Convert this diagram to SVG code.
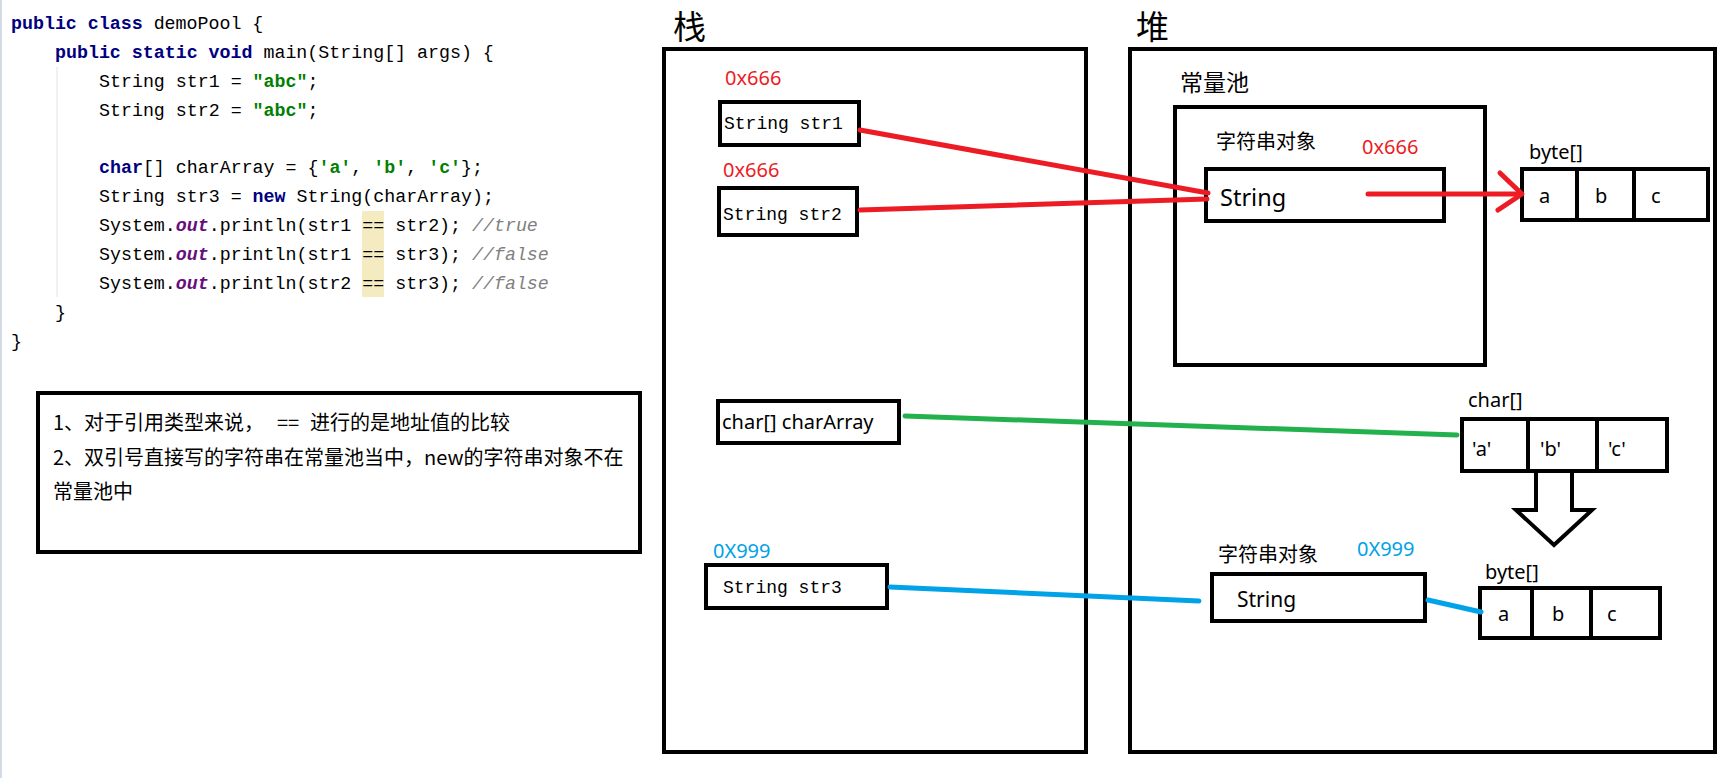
<svg xmlns="http://www.w3.org/2000/svg" width="1726" height="778" viewBox="0 0 1726 778">
<style>
.code{font-family:"Liberation Mono","DejaVu Sans Mono",monospace;font-size:18.3px;fill:#000}
.kw{font-weight:bold;fill:#000080}
.str{font-weight:bold;fill:#008000}
.fld{font-weight:bold;font-style:italic;fill:#660E7A}
.cmt{font-style:italic;fill:#808080}
.box{fill:#fff;stroke:#000;stroke-width:4}
.area{fill:none;stroke:#000;stroke-width:4}
.div{stroke:#000;stroke-width:4}
.cjk{font-family:"Noto Sans CJK SC","Noto Sans",sans-serif;fill:#000}
.lat{font-family:"Noto Sans","Noto Sans CJK SC",sans-serif;fill:#000;font-size:20px}
.mono{font-family:"Liberation Mono","DejaVu Sans Mono",monospace;font-size:18px;fill:#000}
.red{fill:#ED1C24}
.blue{fill:#00A2E8}
.link{fill:none;stroke-width:5;stroke-linecap:round;stroke-linejoin:round}
</style>
<rect width="1726" height="778" fill="#fff"/>

<g id="code">
<line x1="1" y1="0" x2="1" y2="778" stroke="#d3dbe6" stroke-width="2"/>
<line x1="57" y1="67" x2="57" y2="297" stroke="#e2e2e2" stroke-width="1"/>
<rect x="362" y="211" width="22" height="86" fill="#F5EBC0"/>
<text class="code" x="11" y="29"><tspan class="kw">public class</tspan> demoPool {</text>
<text class="code" x="55" y="58"><tspan class="kw">public static void</tspan> main(String[] args) {</text>
<text class="code" x="99" y="87">String str1 = <tspan class="str">"abc"</tspan>;</text>
<text class="code" x="99" y="116">String str2 = <tspan class="str">"abc"</tspan>;</text>
<text class="code" x="99" y="173"><tspan class="kw">char</tspan>[] charArray = {<tspan class="str">'a'</tspan>, <tspan class="str">'b'</tspan>, <tspan class="str">'c'</tspan>};</text>
<text class="code" x="99" y="202">String str3 = <tspan class="kw">new</tspan> String(charArray);</text>
<text class="code" x="99" y="231">System.<tspan class="fld">out</tspan>.println(str1 == str2); <tspan class="cmt">//true</tspan></text>
<text class="code" x="99" y="260">System.<tspan class="fld">out</tspan>.println(str1 == str3); <tspan class="cmt">//false</tspan></text>
<text class="code" x="99" y="289">System.<tspan class="fld">out</tspan>.println(str2 == str3); <tspan class="cmt">//false</tspan></text>
<text class="code" x="55" y="318">}</text>
<text class="code" x="11" y="347">}</text>
</g>

<g id="note">
<rect class="box" x="38" y="393" width="602" height="159"/>
<text class="cjk" font-size="20" y="430"><tspan x="53">1、对于引用类型来说，</tspan><tspan x="277">==</tspan><tspan x="310">进行的是地址值的比较</tspan></text>
<text class="cjk" font-size="20" x="53" y="465">2、双引号直接写的字符串在常量池当中，new的字符串对象不在</text>
<text class="cjk" font-size="20" x="53" y="499">常量池中</text>
</g>

<g id="stack">
<text class="cjk" font-size="33" x="673" y="39">栈</text>
<rect class="area" x="664" y="49" width="422" height="703"/>
</g>

<g id="heap">
<text class="cjk" font-size="33" x="1136" y="39">堆</text>
<rect class="area" x="1130" y="49" width="585" height="703"/>
</g>

<g id="str1">
<text class="lat red" x="725" y="85">0x666</text>
<rect class="box" x="720" y="102" width="139" height="43"/>
<text class="mono" x="724" y="129">String str1</text>
</g>

<g id="str2">
<text class="lat red" x="723" y="177">0x666</text>
<rect class="box" x="719" y="188" width="138" height="47"/>
<text class="mono" x="723" y="220">String str2</text>
</g>

<g id="charArrayVar">
<rect class="box" x="718" y="401" width="181" height="42"/>
<text class="lat" x="722" y="429">char[] charArray</text>
</g>

<g id="str3">
<text class="lat blue" x="713" y="558">0X999</text>
<rect class="box" x="706" y="565" width="181" height="43"/>
<text class="mono" x="723" y="593">String str3</text>
</g>

<g id="constantPool">
<text class="cjk" font-size="23" x="1180" y="91">常量池</text>
<rect class="area" x="1175" y="107" width="310" height="258"/>
</g>

<g id="stringObj1">
<text class="cjk" font-size="20" x="1216" y="149">字符串对象</text>
<text class="lat red" x="1362" y="154">0x666</text>
<rect class="box" x="1206" y="169" width="238" height="52"/>
<text class="lat" font-size="23.5" x="1220" y="206" style="font-size:23.5px">String</text>
</g>

<g id="byteArray1">
<text class="lat" x="1529" y="159">byte[]</text>
<rect class="box" x="1522" y="169" width="186" height="51"/>
<line class="div" x1="1577" y1="169" x2="1577" y2="220"/>
<line class="div" x1="1634" y1="169" x2="1634" y2="220"/>
<text class="lat" x="1539" y="203">a</text>
<text class="lat" x="1595" y="203">b</text>
<text class="lat" x="1651" y="203">c</text>
</g>

<g id="charArray">
<text class="lat" x="1468" y="407">char[]</text>
<rect class="box" x="1462" y="419" width="205" height="52"/>
<line class="div" x1="1528" y1="419" x2="1528" y2="471"/>
<line class="div" x1="1597" y1="419" x2="1597" y2="471"/>
<text class="lat" x="1472" y="456">'a'</text>
<text class="lat" x="1540" y="456">'b'</text>
<text class="lat" x="1608" y="456">'c'</text>
</g>

<g id="convertArrow">
<polygon points="1536,471 1572,471 1572,510 1592,510 1554,545 1516,510 1536,510" fill="#fff" stroke="#000" stroke-width="4" stroke-linejoin="miter"/>
</g>

<g id="stringObj2">
<text class="cjk" font-size="20" x="1218" y="562">字符串对象</text>
<text class="lat blue" x="1357" y="556">0X999</text>
<rect class="box" x="1212" y="574" width="213" height="47"/>
<text class="lat" x="1237" y="607" style="font-size:21px">String</text>
</g>

<g id="byteArray2">
<text class="lat" x="1485" y="579">byte[]</text>
<rect class="box" x="1480" y="588" width="180" height="50"/>
<line class="div" x1="1532" y1="588" x2="1532" y2="638"/>
<line class="div" x1="1591" y1="588" x2="1591" y2="638"/>
<text class="lat" x="1498" y="621">a</text>
<text class="lat" x="1552" y="621">b</text>
<text class="lat" x="1607" y="621">c</text>
</g>

<g id="connectors">
<line class="link" stroke="#ED1C24" x1="860" y1="130" x2="1208" y2="193"/>
<line class="link" stroke="#ED1C24" x1="860" y1="210" x2="1207" y2="199"/>
<line class="link" stroke="#ED1C24" x1="1368" y1="194" x2="1521" y2="194"/>
<polyline class="link" stroke="#ED1C24" points="1500,173 1522,194 1498,210"/>
<line class="link" stroke="#22B14C" x1="905" y1="416" x2="1457" y2="435"/>
<line class="link" stroke="#00A2E8" x1="890" y1="587" x2="1199" y2="601"/>
<line class="link" stroke="#00A2E8" x1="1428" y1="600" x2="1481" y2="612"/>
</g>
</svg>
